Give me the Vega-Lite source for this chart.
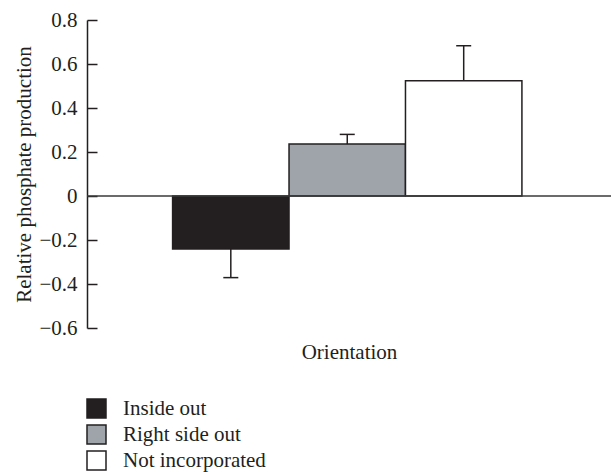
{
  "$schema": "https://vega.github.io/schema/vega-lite/v6.json",
  "autosize": "none",
  "width": 524,
  "height": 308,
  "padding": {"left": 87, "top": 20, "right": 0, "bottom": 144},
  "background": "white",
  "config": {
    "view": {"stroke": null},
    "font": "Liberation Serif",
    "axis": {"labelFont": "Liberation Serif", "titleFont": "Liberation Serif", "labelColor": "#231f20", "titleColor": "#231f20", "titleFontWeight": "normal"},
    "legend": {"labelFont": "Liberation Serif"}
  },
  "layer": [
    {
      "data": {
        "values": [
          {"orientation": "Inside out", "value": -0.241, "err": -0.371},
          {"orientation": "Right side out", "value": 0.236, "err": 0.28},
          {"orientation": "Not incorporated", "value": 0.524, "err": 0.683}
        ]
      },
      "encoding": {
        "x": {
          "field": "orientation",
          "type": "nominal",
          "sort": ["Inside out", "Right side out", "Not incorporated"],
          "scale": {"paddingInner": 0, "paddingOuter": 0.75, "align": 0.49},
          "axis": {"title": "Orientation", "labels": false, "ticks": false, "domain": false, "titleFontSize": 21, "titlePadding": 13}
        }
      },
      "layer": [
        {
          "mark": {"type": "bar", "stroke": "#231f20", "strokeWidth": 1.5},
          "encoding": {
            "y": {
              "field": "value",
              "type": "quantitative",
              "scale": {"domain": [-0.6, 0.8], "nice": false, "zero": false},
              "axis": {
                "title": "Relative phosphate production",
                "titleFontSize": 21,
                "titlePadding": 4,
                "values": [-0.6, -0.4, -0.2, 0, 0.2, 0.4, 0.6, 0.8],
                "labelExpr": "datum.value == 0 ? '0' : format(datum.value, '.1f')",
                "labelFontSize": 21,
                "grid": false,
                "domainColor": "#231f20",
                "domainWidth": 1.5,
                "tickColor": "#231f20",
                "tickWidth": 1.5,
                "tickSize": -10,
                "labelPadding": 20
              }
            },
            "fill": {
              "field": "orientation",
              "type": "nominal",
              "sort": ["Inside out", "Right side out", "Not incorporated"],
              "scale": {"domain": ["Inside out", "Right side out", "Not incorporated"], "range": ["#231f20", "#9ea4a9", "#ffffff"]},
              "legend": {
                "title": null,
                "orient": "none",
                "legendX": -1,
                "legendY": 378,
                "padding": 0,
                "symbolType": "square",
                "symbolSize": 361,
                "symbolStrokeColor": "#231f20",
                "symbolStrokeWidth": 1.5,
                "symbolOpacity": 1,
                "labelFontSize": 21,
                "labelColor": "#231f20",
                "labelOffset": 16,
                "rowPadding": 1
              }
            }
          }
        },
        {
          "mark": {"type": "rule", "stroke": "#231f20", "strokeWidth": 1.5},
          "encoding": {
            "y": {"field": "value", "type": "quantitative"},
            "y2": {"field": "err"}
          }
        },
        {
          "mark": {"type": "tick", "color": "#231f20", "thickness": 1.5, "size": 15, "opacity": 1},
          "encoding": {
            "y": {"field": "err", "type": "quantitative"}
          }
        }
      ]
    },
    {
      "data": {"values": [{"zero": 0}]},
      "mark": {"type": "rule", "stroke": "#3a3a3a", "strokeWidth": 1.5},
      "encoding": {
        "y": {"field": "zero", "type": "quantitative"}
      }
    }
  ]
}
